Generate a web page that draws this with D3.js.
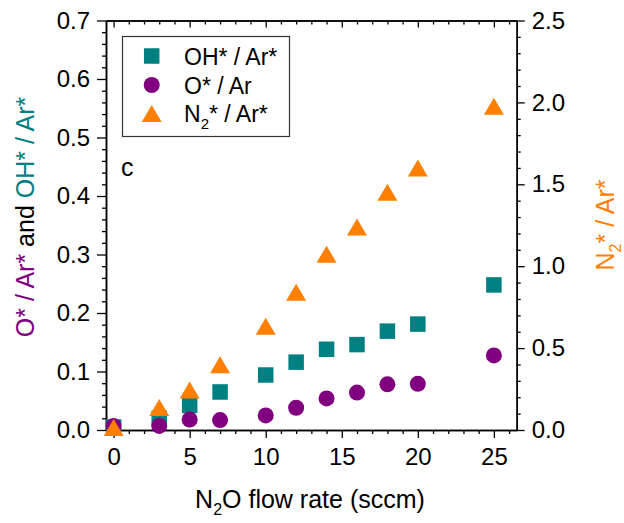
<!DOCTYPE html>
<html><head><meta charset="utf-8">
<script src="https://cdn.jsdelivr.net/npm/d3@7"></script>
<style>
html,body{margin:0;padding:0;background:#fff;}
svg{display:block;font-family:"Liberation Sans",Arial,Helvetica,sans-serif;}
</style></head>
<body>
<svg id="chart" width="624" height="523"></svg>
<script>
const flow = [0, 3, 5, 7, 10, 12, 14, 16, 18, 20, 25];
const ohAr = [0.005, 0.02, 0.042, 0.065, 0.094, 0.116, 0.138, 0.146, 0.169, 0.181, 0.248];
const oAr  = [0.007, 0.007, 0.018, 0.017, 0.025, 0.038, 0.054, 0.064, 0.078, 0.079, 0.1275];
const n2Ar = [0.015, 0.138, 0.244, 0.399, 0.633, 0.841, 1.073, 1.239, 1.451, 1.599, 1.977];
const xTicks = [0, 5, 10, 15, 20, 25];
const yLeftTicks = [0, 0.1, 0.2, 0.3, 0.4, 0.5, 0.6, 0.7];
const yRightTicks = [0, 0.5, 1.0, 1.5, 2.0, 2.5];

const C_OH = "#008080", C_O = "#800080", C_N2 = "#ff8000";

const svg = d3.select("#chart");
const X0 = 106, X1 = 516.7, Y0 = 20.5, Y1 = 430;
const x = d3.scaleLinear().domain([-0.5, 26.5]).range([X0, X1]);
const yL = d3.scaleLinear().domain([0, 0.7]).range([Y1, Y0]);
const yR = d3.scaleLinear().domain([0, 2.5]).range([Y1, Y0]);

const xMinor = d3.range(0, 27, 1).filter(v => v % 5 !== 0);
const yLMinor = d3.range(0, 71, 2).map(v => v / 100).filter((v, i) => i % 5 !== 0);
const yRMinor = d3.range(0, 26, 1).map(v => v / 10).filter((v, i) => i % 5 !== 0);

function styleAxis(g) {
  g.selectAll("path.domain").attr("stroke", "#000").attr("stroke-width", 1.5);
  g.selectAll(".tick line").attr("stroke", "#000").attr("stroke-width", 1.3);
  g.selectAll(".tick text").attr("font-size", 24).attr("fill", "#000")
    .attr("font-family", '"Liberation Sans",Arial,Helvetica,sans-serif');
}

// bottom axis
svg.append("g").attr("transform", `translate(0,${Y1})`)
  .call(d3.axisBottom(x).tickValues(xMinor).tickSize(4).tickFormat("").tickSizeOuter(0))
  .call(styleAxis);
svg.append("g").attr("transform", `translate(0,${Y1})`)
  .call(d3.axisBottom(x).tickValues(xTicks).tickSize(8).tickPadding(10).tickFormat(d3.format("d")).tickSizeOuter(0))
  .call(styleAxis);
// top axis (inward ticks)
svg.append("g").attr("transform", `translate(0,${Y0})`)
  .call(d3.axisTop(x).tickValues(xMinor).tickSize(-4).tickFormat("").tickSizeOuter(0))
  .call(styleAxis);
svg.append("g").attr("transform", `translate(0,${Y0})`)
  .call(d3.axisTop(x).tickValues(xTicks).tickSize(-7).tickFormat("").tickSizeOuter(0))
  .call(styleAxis);
// left axis
svg.append("g").attr("transform", `translate(${X0},0)`)
  .call(d3.axisLeft(yL).tickValues(yLMinor).tickSize(4).tickFormat("").tickSizeOuter(0))
  .call(styleAxis);
svg.append("g").attr("transform", `translate(${X0},0)`)
  .call(d3.axisLeft(yL).tickValues(yLeftTicks).tickSize(9).tickPadding(7).tickFormat(d3.format(".1f")).tickSizeOuter(0))
  .call(styleAxis);
// right axis
svg.append("g").attr("transform", `translate(${X1},0)`)
  .call(d3.axisRight(yR).tickValues(yRMinor).tickSize(4).tickFormat("").tickSizeOuter(0))
  .call(styleAxis);
svg.append("g").attr("transform", `translate(${X1},0)`)
  .call(d3.axisRight(yR).tickValues(yRightTicks).tickSize(8).tickPadding(7).tickFormat(d3.format(".1f")).tickSizeOuter(0))
  .call(styleAxis);

// markers
const sq = 15.5, rc = 8, tw = 20, th = 17;
const triPath = `M0,${-th/2}L${tw/2},${th/2}L${-tw/2},${th/2}Z`;
const plot = svg.append("g");
plot.selectAll("rect.oh").data(flow.map((f, i) => [f, ohAr[i]])).join("rect")
  .attr("x", d => x(d[0]) - sq/2).attr("y", d => yL(d[1]) - sq/2)
  .attr("width", sq).attr("height", sq).attr("fill", C_OH);
plot.selectAll("circle.o").data(flow.map((f, i) => [f, oAr[i]])).join("circle")
  .attr("cx", d => x(d[0])).attr("cy", d => yL(d[1])).attr("r", rc).attr("fill", C_O);
plot.selectAll("path.n2").data(flow.map((f, i) => [f, n2Ar[i]])).join("path")
  .attr("d", triPath).attr("transform", d => `translate(${x(d[0])},${yR(d[1])})`).attr("fill", C_N2);

// legend
const lg = svg.append("g");
lg.append("rect").attr("x", 122.5).attr("y", 36.5).attr("width", 167).attr("height", 100)
  .attr("fill", "#fff").attr("stroke", "#333").attr("stroke-width", 1.2);
const lx = 151.7, ltx = 184;
lg.append("rect").attr("x", lx - sq/2).attr("y", 56 - sq/2).attr("width", sq).attr("height", sq).attr("fill", C_OH);
lg.append("circle").attr("cx", lx).attr("cy", 85).attr("r", rc).attr("fill", C_O);
lg.append("path").attr("d", triPath).attr("transform", `translate(${lx},113.5)`).attr("fill", C_N2);
lg.append("text").attr("x", ltx).attr("y", 65).attr("font-size", 23).text("OH* / Ar*");
lg.append("text").attr("x", ltx).attr("y", 93.5).attr("font-size", 23).text("O* / Ar");
const t3 = lg.append("text").attr("x", ltx).attr("y", 122).attr("font-size", 23);
t3.append("tspan").text("N");
t3.append("tspan").attr("font-size", 15).attr("dy", 7).text("2");
t3.append("tspan").attr("dy", -7).text("* / Ar*");

// panel label
svg.append("text").attr("x", 121).attr("y", 175.5).attr("font-size", 25).text("c");

// x title
const xt = svg.append("text").attr("x", 310).attr("y", 508).attr("text-anchor", "middle").attr("font-size", 25);
xt.append("tspan").text("N");
xt.append("tspan").attr("font-size", 16).attr("dy", 7).text("2");
xt.append("tspan").attr("dy", -7).text("O flow rate (sccm)");

// left title
const lt = svg.append("text").attr("transform", `translate(34,217) rotate(-90)`)
  .attr("text-anchor", "middle").attr("font-size", 25);
lt.append("tspan").attr("fill", C_O).text("O* / Ar*");
lt.append("tspan").attr("fill", "#000").text(" and ");
lt.append("tspan").attr("fill", C_OH).text("OH* / Ar*");

// right title
const rt = svg.append("text").attr("transform", `translate(614,225) rotate(-90)`)
  .attr("text-anchor", "middle").attr("font-size", 25).attr("fill", C_N2);
rt.append("tspan").text("N");
rt.append("tspan").attr("font-size", 16).attr("dy", 7).text("2");
rt.append("tspan").attr("dy", -7).text("* / Ar*");
</script>
</body></html>
